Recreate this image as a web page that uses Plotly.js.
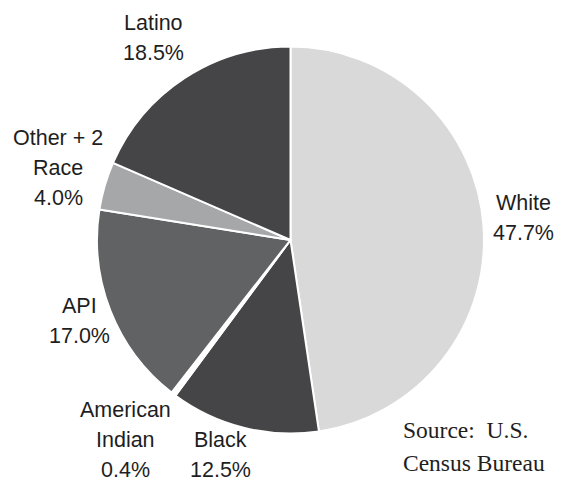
<!DOCTYPE html>
<html>
<head>
<meta charset="utf-8">
<script src="https://cdn.plot.ly/plotly-3.0.1.min.js"></script>
<style>html,body{margin:0;padding:0;background:#fff;}#chart{width:569px;height:482px;}</style>
</head>
<body>
<div id="chart"></div>
<script>
// Data
const categories = ['White', 'Black', 'American Indian', 'API', 'Other + 2 Race', 'Latino'];
const shares = [47.7, 12.5, 0.4, 17.0, 4.0, 18.5];
const labelLines = [['White'], ['Black'], ['American', 'Indian'], ['API'], ['Other + 2', 'Race'], ['Latino']];
const sourceLines = ['Source:  U.S.', 'Census Bureau'];

// Styles
const sliceColors = ['#d9d9d9', '#454547', '#ffffff', '#616264', '#a6a7a9', '#454547'];
// label block: center x, middle y of first line (pixels)
const labelPos = [[523, 203], [220, 440], [125, 410], [79, 305.5], [58, 138], [153, 23]];
const W = 569, H = 482, LINE = 30;

const annotations = [];
categories.forEach((c, i) => {
  const lines = labelLines[i].concat([shares[i].toFixed(1) + '%']);
  lines.forEach((t, j) => {
    annotations.push({
      text: t, showarrow: false, xref: 'paper', yref: 'paper',
      x: labelPos[i][0] / W, y: 1 - (labelPos[i][1] + j * LINE) / H,
      xanchor: 'center', yanchor: 'middle',
      font: {family: 'Liberation Sans, Arial, sans-serif', size: 21.5, color: '#1e1e1e'}
    });
  });
});
sourceLines.forEach((t, j) => {
  annotations.push({
    text: t, showarrow: false, xref: 'paper', yref: 'paper',
    x: 401 / W, y: 1 - (430 + j * 33) / H,
    xanchor: 'left', yanchor: 'middle',
    font: {family: 'Liberation Serif, Times New Roman, serif', size: 23.5, color: '#1e1e1e'}
  });
});

const trace = {
  type: 'pie',
  labels: categories,
  values: shares,
  sort: false,
  direction: 'clockwise',
  rotation: 0,
  textinfo: 'none',
  hoverinfo: 'label+percent',
  marker: {colors: sliceColors, line: {color: '#ffffff', width: 2}},
  domain: {x: [97 / W, 484 / W], y: [(H - 433.5) / H, (H - 46.5) / H]},
  showlegend: false
};

Plotly.newPlot('chart', [trace], {
  width: W, height: H,
  margin: {l: 0, r: 0, t: 0, b: 0},
  paper_bgcolor: '#ffffff',
  showlegend: false,
  annotations: annotations
}, {displayModeBar: false, staticPlot: true});
</script>
</body>
</html>
